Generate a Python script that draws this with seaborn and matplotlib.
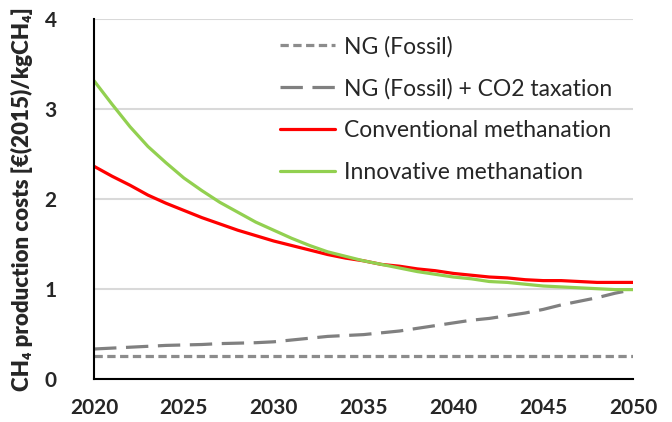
import numpy as np
import pandas as pd
import seaborn as sns
import matplotlib.pyplot as plt

# valeurs (2020-2050, pas annuel)
years = list(range(2020, 2051))

ng_fossil = [0.25] * 31

ng_co2 = [0.33, 0.34, 0.35, 0.36, 0.37, 0.375, 0.38, 0.39, 0.395, 0.40,
          0.41, 0.43, 0.45, 0.47, 0.48, 0.49, 0.51, 0.53, 0.56, 0.59,
          0.62, 0.65, 0.67, 0.70, 0.73, 0.77, 0.82, 0.86, 0.90, 0.95, 0.99]

conventional = [2.36, 2.25, 2.15, 2.04, 1.95, 1.87, 1.79, 1.72, 1.65, 1.59,
                1.53, 1.48, 1.43, 1.38, 1.34, 1.31, 1.27, 1.25, 1.22, 1.20,
                1.17, 1.15, 1.13, 1.12, 1.10, 1.09, 1.09, 1.08, 1.07, 1.07, 1.07]

innovative = [3.31, 3.05, 2.80, 2.58, 2.40, 2.23, 2.09, 1.96, 1.85, 1.74,
              1.65, 1.56, 1.48, 1.41, 1.36, 1.31, 1.27, 1.23, 1.19, 1.16,
              1.13, 1.11, 1.08, 1.07, 1.05, 1.03, 1.02, 1.01, 1.00, 0.99, 0.99]

labels = ['NG (Fossil)', 'NG (Fossil) + CO2 taxation',
          'Conventional methanation', 'Innovative methanation']
colors = ['#8c8c8c', '#808080', '#ff0000', '#92d050']

# tableau long pour seaborn
df = pd.DataFrame({
    'Year': years * 4,
    'Cost': ng_fossil + ng_co2 + conventional + innovative,
    'Series': np.repeat(labels, len(years)),
})

sns.set_style('white')
plt.rcParams['font.family'] = ['Lato', 'DejaVu Sans']

fig = plt.figure(figsize=(6.72, 4.22), dpi=100)
ax = fig.add_axes([0.140, 0.1026, 0.802, 0.853])

dashes = {labels[0]: (2.6, 1.4), labels[1]: (7, 3), labels[2]: '', labels[3]: ''}
sns.lineplot(data=df, x='Year', y='Cost', hue='Series', style='Series',
             palette=dict(zip(labels, colors)), dashes=dashes,
             linewidth=2.3, ax=ax)

ax.set_xlim(2020, 2050)
ax.set_ylim(0, 4)
ax.set_xticks(range(2020, 2051, 5))
ax.set_yticks(range(0, 5))
ax.yaxis.grid(True, color='#d9d9d9', linewidth=1.5)
ax.set_axisbelow(True)
for s in ['top', 'right']:
    ax.spines[s].set_visible(False)
for s in ['left', 'bottom']:
    ax.spines[s].set_color('black')
    ax.spines[s].set_linewidth(1.5)
ax.tick_params(axis='both', direction='in', length=6, width=1.3, color='black',
               labelsize=15)
ax.tick_params(axis='y', pad=27)
ax.tick_params(axis='x', pad=14)
for t in ax.get_xticklabels() + ax.get_yticklabels():
    t.set_fontweight('bold')

ax.set_xlabel('')
ax.set_ylabel('CH₄ production costs [€(2015)/kgCH₄]',
              fontsize=16, fontweight=800)
ax.yaxis.set_label_coords(-0.113, 0.5)

handles, _ = ax.get_legend_handles_labels()
ax.legend(handles[-4:], labels, loc='upper right', frameon=False, fontsize=16.5,
          handlelength=2.4, labelspacing=0.9, handletextpad=0.4,
          bbox_to_anchor=(1.0, 1.01))

plt.savefig('out.png', dpi=100)
plt.close()
